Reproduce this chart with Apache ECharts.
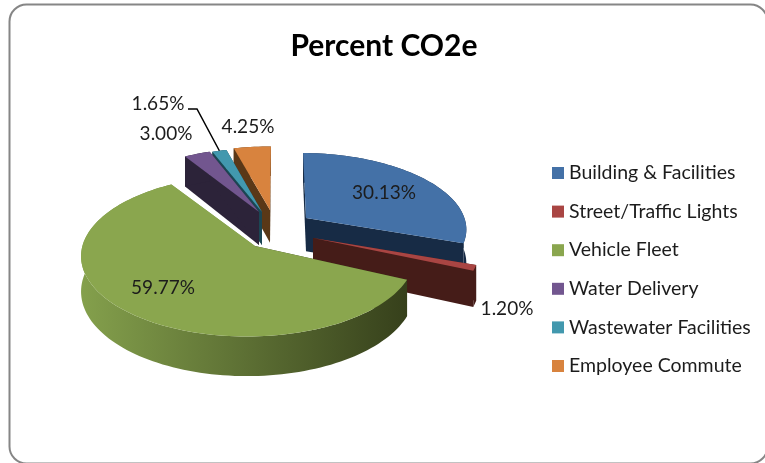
<!DOCTYPE html>
<html>
<head>
<meta charset="utf-8">
<style>html,body{margin:0;padding:0;background:#fff}#chart{width:765px;height:463px}</style>
<script src="https://cdn.jsdelivr.net/npm/echarts@6/dist/echarts.min.js"></script>
</head>
<body>
<div id="chart"></div>
<script>
// Emissions shares, in percent, clockwise from twelve o'clock
const categories = ['Building & Facilities', 'Street/Traffic Lights', 'Vehicle Fleet', 'Water Delivery', 'Wastewater Facilities', 'Employee Commute'];
const shares = [30.13, 1.20, 59.77, 3.00, 1.65, 4.25];

// Surface colours per slice
const topColors = ['#4471a7', '#a94543', '#8aa64e', '#72568f', '#4298ae', '#d8833e'];
const wallColors = ['#172b45', '#451c18', null, '#2c2339', '#1b4653', '#5a3817'];
const fleetWall = ['#84a04c', '#5d7034', '#36401b'];

// Exploded disc centre of each slice, the nudge of its inner point, and its value label
const sliceCentres = [[306, 218], [313, 238], [248, 246], [259, 212], [262, 212], [270, 210]];
const tipNudges = [[0, 0], [0, 0], [7, 0], [0, 0], [0, 0], [0, 0]];
const labelSpots = [[384, 193], [507, 309], [163, 288], [166, 134], [158, 104], [248, 127]];
const paintOrder = [5, 4, 3, 0, 1, 2];

// Tilted-disc projection with a mild perspective towards the viewer
const view = { cx: 255, cy: 232, rx: 162, ry: 76, persp: 0.12, depth: 34, start: 1 };
const FONT = 'Lato';

function scaleAt(v) { return 1 / (1 - view.persp * v); }
function toScreen(u, v) {
  const s = scaleAt(v);
  return [view.cx + view.rx * u * s, view.cy + view.ry * v * s];
}
function fromScreen(p) {
  const Y = p[1] - view.cy;
  const v = Y / (view.ry + view.persp * Y);
  return [(p[0] - view.cx) * (1 - view.persp * v) / view.rx, v];
}
function drop(p, v) { return [p[0], p[1] + view.depth * scaleAt(v)]; }

function startAngle(i) {
  return view.start + shares.slice(0, i).reduce((a, b) => a + b, 0) * 3.6;
}

function sliceShapes(i, value) {
  const centre = fromScreen(sliceCentres[i]);
  const a0 = startAngle(i), a1 = a0 + value * 3.6;
  const steps = Math.max(4, Math.ceil(value * 2));
  const rim = [];
  for (let k = 0; k <= steps; k++) {
    const t = (a0 + (a1 - a0) * k / steps) * Math.PI / 180;
    const u = centre[0] + Math.sin(t), v = centre[1] - Math.cos(t);
    rim.push({ p: toScreen(u, v), low: drop(toScreen(u, v), v) });
  }
  const tipTop = [sliceCentres[i][0] + tipNudges[i][0], sliceCentres[i][1] + tipNudges[i][1]];
  const tipLow = drop(tipTop, centre[1]);
  const first = rim[0], last = rim[rim.length - 1];
  const wallFill = wallColors[i] || {
    type: 'linear', x: 0, y: 0, x2: 1, y2: 0,
    colorStops: fleetWall.map((c, n) => ({ offset: n / (fleetWall.length - 1), color: c }))
  };
  const poly = (points, fill) => ({ type: 'polygon', shape: { points }, style: { fill, stroke: null } });
  const children = [
    poly([tipTop, first.p, first.low, tipLow], wallColors[i] || fleetWall[2]),
    poly([tipTop, last.p, last.low, tipLow], wallColors[i] || fleetWall[0]),
    poly(rim.map(r => r.p).concat(rim.map(r => r.low).reverse()), wallFill),
    poly([tipTop].concat(rim.map(r => r.p)), topColors[i])
  ];
  // The narrowest rear slice gets a leader line from its label to the outer edge
  if (i === 4) {
    const mid = rim[Math.floor(rim.length / 2)].p;
    const spot = labelSpots[i];
    children.push({
      type: 'polyline',
      shape: { points: [[spot[0] + 30, spot[1] + 5], [spot[0] + 39, spot[1] + 5], mid] },
      style: { stroke: '#000', lineWidth: 1.5, fill: null }
    });
  }
  children.push({
    type: 'text',
    style: {
      text: value.toFixed(2) + '%',
      x: labelSpots[i][0], y: labelSpots[i][1],
      align: 'center', verticalAlign: 'middle',
      fontFamily: FONT, fontSize: 19, fill: '#1c1c1c'
    }
  });
  return { type: 'group', children };
}

const pieSeries = paintOrder.map((i, n) => ({
  type: 'custom',
  name: categories[i],
  coordinateSystem: 'none',
  silent: true,
  z: 2 + n,
  itemStyle: { color: topColors[i] },
  data: [[shares[i]]],
  renderItem: (params, api) => sliceShapes(i, api.value(0))
}));

const chart = echarts.init(document.getElementById('chart'), null, { renderer: 'canvas' });
chart.setOption({
  animation: false,
  backgroundColor: '#fff',
  title: {
    text: 'Percent CO2e',
    left: 379, top: 26, textAlign: 'center',
    textStyle: { fontFamily: FONT, fontSize: 30, fontWeight: 'bold', color: '#000' }
  },
  legend: {
    orient: 'vertical',
    left: 547, top: 158,
    data: categories,
    icon: 'rect',
    itemWidth: 12, itemHeight: 12, itemGap: 18.6,
    selectedMode: false,
    textStyle: { fontFamily: FONT, fontSize: 19.5, color: '#1c1c1c', padding: [0, 0, 0, 0], lineHeight: 20 }
  },
  graphic: [{
    type: 'rect', silent: true, z: 0,
    shape: { x: 9.5, y: 4.5, width: 758, height: 459, r: 17 },
    style: { fill: null, stroke: '#868686', lineWidth: 2 }
  }],
  series: pieSeries
});
</script>
</body>
</html>
